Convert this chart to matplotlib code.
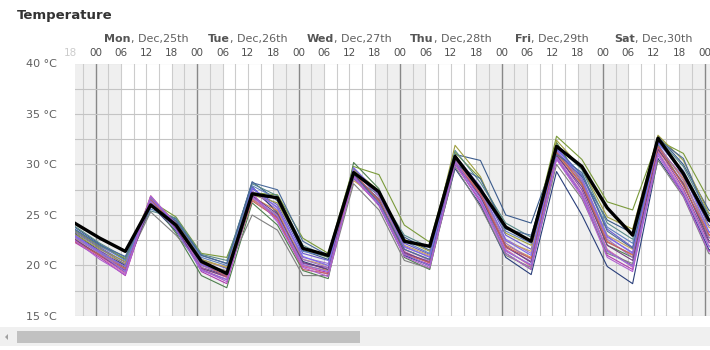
import matplotlib
matplotlib.use('Agg')
import matplotlib.pyplot as plt
from matplotlib.patches import Rectangle, Polygon
from matplotlib import transforms

# hours relative to Mon Dec 25, 00:00
hours = [-5, 1, 7, 13, 19, 25, 31, 37, 43, 49, 55, 61, 67, 73, 79,
         85, 91, 97, 103, 109, 115, 121, 127, 133, 139, 145, 151]

# main run (black)
main_run = [24.2, 22.7, 21.4, 26.0, 24.0, 20.4, 19.2, 27.1, 26.7, 21.7, 21.0, 29.2, 27.3, 22.4,
            21.9, 30.8, 27.5, 23.8, 22.4, 31.8, 29.8, 25.7, 23.0, 32.6, 29.1, 24.5, 23.0]

# ensemble members
m01 = [22.6, 21.0, 19.3, 26.5, 23.6, 19.6, 18.6, 26.6, 24.8, 20.2, 19.8, 28.9, 26.2, 21.2,
       20.4, 30.2, 26.9, 21.8, 20.4, 31.0, 27.5, 21.5, 20.0, 31.6, 27.6, 22.3, 21.0]
m02 = [22.3, 20.8, 19.0, 26.8, 23.9, 19.4, 18.2, 27.0, 24.5, 19.9, 19.3, 28.6, 26.0, 21.0,
       20.1, 30.0, 26.4, 21.5, 20.0, 30.6, 27.0, 21.0, 19.6, 31.2, 27.0, 21.5, 20.4]
m03 = [23.0, 21.5, 20.0, 26.3, 24.2, 20.2, 19.3, 27.4, 25.5, 20.8, 20.2, 29.3, 26.8, 21.8,
       20.9, 30.5, 27.4, 22.6, 21.2, 31.4, 28.4, 22.8, 21.3, 32.0, 28.4, 23.3, 22.0]
m04 = [23.4, 21.8, 20.3, 26.1, 24.4, 20.6, 19.7, 27.6, 26.0, 21.2, 20.5, 29.6, 27.0, 22.2,
       21.1, 30.9, 27.8, 23.0, 21.6, 31.7, 28.9, 23.6, 21.8, 32.3, 29.0, 24.0, 22.6]
m05 = [23.8, 22.1, 20.6, 25.8, 24.6, 21.0, 20.2, 28.3, 26.4, 21.5, 20.6, 28.8, 26.6, 22.8,
       21.5, 31.0, 30.4, 25.0, 24.2, 31.2, 28.8, 24.5, 23.2, 32.8, 30.0, 25.5, 24.0]
m06 = [23.2, 21.4, 20.0, 26.0, 23.4, 19.8, 19.0, 27.8, 25.2, 20.4, 19.6, 29.0, 26.0, 21.0,
       20.0, 29.6, 26.0, 20.8, 19.1, 29.3, 25.0, 19.9, 18.2, 30.6, 27.0, 21.6, 20.5]
m07 = [22.8, 21.2, 19.8, 26.6, 23.2, 19.0, 17.8, 26.2, 24.0, 19.5, 18.7, 30.2, 27.6, 20.8,
       19.6, 30.6, 27.0, 21.2, 19.6, 32.2, 28.2, 22.0, 20.8, 31.9, 28.0, 22.8, 21.5]
m08 = [23.5, 21.9, 20.7, 26.4, 24.8, 21.2, 20.8, 27.2, 27.0, 22.7, 21.2, 29.8, 29.0, 24.0,
       22.3, 31.2, 28.6, 23.8, 22.4, 32.8, 30.5, 26.3, 25.5, 32.4, 31.1, 26.5, 25.0]
m09 = [23.1, 21.6, 20.4, 26.7, 24.3, 20.6, 19.8, 27.0, 26.2, 21.6, 20.8, 29.5, 27.4, 22.6,
       21.4, 31.9, 28.8, 23.2, 22.0, 32.4, 29.6, 24.8, 23.6, 32.9, 30.4, 25.2, 23.8]
m10 = [22.4, 21.1, 19.9, 26.9, 24.0, 20.0, 19.4, 26.8, 25.4, 20.0, 19.5, 29.0, 26.4, 21.6,
       20.6, 30.3, 27.2, 22.0, 20.8, 31.1, 28.0, 22.4, 21.0, 31.8, 28.6, 23.0, 21.8]
m11 = [22.7, 21.3, 20.2, 26.2, 24.1, 20.4, 19.9, 26.5, 25.0, 20.6, 20.0, 28.4, 26.6, 22.0,
       21.0, 30.0, 27.6, 22.4, 21.4, 30.9, 28.6, 23.0, 21.6, 31.4, 28.2, 23.8, 22.4]
m12 = [22.5, 20.9, 19.2, 26.3, 23.8, 19.8, 18.8, 26.7, 24.6, 20.0, 19.1, 28.8, 26.2, 21.4,
       20.2, 30.4, 27.0, 21.6, 19.9, 30.8, 27.2, 21.6, 19.8, 31.3, 27.4, 22.0, 20.6]
m13 = [23.6, 22.0, 20.5, 25.6, 24.5, 20.8, 20.0, 27.9, 26.6, 21.4, 20.9, 29.1, 27.2, 22.4,
       21.2, 30.7, 27.6, 23.4, 22.2, 31.5, 29.0, 23.8, 22.2, 32.1, 29.4, 24.6, 23.2]
m14 = [23.9, 22.2, 20.8, 25.4, 24.7, 21.1, 20.5, 28.1, 26.9, 22.0, 20.8, 28.6, 27.0, 23.0,
       21.8, 31.4, 28.2, 24.2, 22.8, 31.9, 29.5, 24.2, 22.6, 32.6, 29.8, 25.0, 23.4]
m15 = [23.3, 21.7, 20.1, 25.3, 23.0, 20.1, 19.5, 25.0, 23.5, 19.0, 19.0, 28.1, 25.5, 20.5,
       19.7, 29.8, 25.8, 21.0, 19.8, 30.0, 26.6, 21.2, 20.2, 30.4, 26.8, 21.2, 20.0]
m16 = [22.9, 21.4, 19.6, 26.6, 24.2, 20.0, 19.0, 27.3, 25.8, 20.6, 19.8, 29.4, 26.9, 21.6,
       20.5, 30.6, 27.3, 22.2, 20.6, 31.3, 28.3, 22.6, 20.8, 31.7, 28.8, 22.8, 21.2]
m17 = [22.6, 21.0, 19.5, 26.0, 23.7, 19.7, 18.9, 26.9, 25.1, 20.3, 19.6, 29.0, 26.5, 21.3,
       20.3, 30.1, 26.8, 21.9, 20.3, 30.9, 27.8, 22.0, 20.5, 31.5, 28.1, 22.5, 21.0]
m18 = [22.4, 21.0, 19.7, 26.5, 23.9, 20.2, 18.9, 26.4, 24.7, 19.6, 19.2, 29.2, 26.4, 21.1,
       20.3, 30.2, 27.1, 21.8, 20.7, 31.2, 28.1, 22.3, 21.1, 31.8, 27.9, 23.1, 21.5]
m19 = [23.6, 22.0, 20.9, 25.9, 24.4, 21.0, 20.2, 28.2, 27.5, 22.4, 21.0, 29.0, 26.2, 21.6,
       20.6, 30.0, 28.6, 23.6, 23.0, 31.0, 29.2, 23.4, 21.7, 32.5, 30.6, 24.6, 22.9]
m20 = [23.0, 21.3, 19.9, 26.8, 24.0, 20.1, 19.2, 27.7, 25.7, 20.9, 20.0, 29.7, 27.1, 21.9,
       20.8, 30.8, 27.6, 22.5, 21.0, 31.6, 28.6, 22.9, 21.2, 32.2, 29.2, 23.4, 21.8]
m21 = [22.8, 21.2, 19.4, 26.4, 23.5, 19.5, 18.6, 26.8, 24.9, 20.1, 19.4, 28.7, 26.1, 21.1,
       20.0, 30.3, 26.6, 21.4, 20.1, 30.7, 27.1, 21.4, 19.9, 31.1, 27.2, 21.9, 20.3]
m22 = [22.5, 20.6, 19.1, 26.9, 24.1, 19.6, 18.4, 27.2, 24.3, 19.8, 18.9, 28.9, 25.9, 20.9,
       19.8, 30.1, 26.2, 21.2, 19.6, 30.5, 26.8, 20.8, 19.4, 30.9, 26.9, 21.4, 20.2]

members = [m01, m02, m03, m04, m05, m06, m07, m08, m09, m10, m11,
           m12, m13, m14, m15, m16, m17, m18, m19, m20, m21, m22]
member_colors = ['#8e44ad', '#b03ab0', '#9b6fd0', '#6a5acd', '#3b5b8c', '#2a3f7a',
                 '#4f7f4f', '#7a9a3a', '#a0a040', '#d2884a', '#c8a060', '#d070b0',
                 '#6080c0', '#5a8a8a', '#808080', '#a070c0', '#704080', '#c06060',
                 '#4a6a9a', '#7b68ee', '#9370db', '#b060d0']

day_names = ['Mon', 'Tue', 'Wed', 'Thu', 'Fri', 'Sat']
day_dates = [', Dec,25th', ', Dec,26th', ', Dec,27th', ', Dec,28th', ', Dec,29th', ', Dec,30th']
day_noon = [12, 36, 60, 84, 108, 132]

hour_ticks = list(range(-6, 145, 6))
y_ticks = [15, 20, 25, 30, 35, 40]

W, H = 710, 350
fig = plt.figure(figsize=(W / 100, H / 100), dpi=100)
ax = fig.add_axes([75 / W, 1 - 316 / H, 635 / W, (316 - 63.5) / H])
ax.set_xlim(-4.9, 145.3)
ax.set_ylim(15, 40)

# night shading 18:00 - 06:00
for start in range(-6, 150, 24):
    ax.axvspan(start, start + 12, color='#efefef', lw=0, zorder=0)

# grid
for h in range(-3, 147, 3):
    if h % 24 == 0:
        ax.axvline(h, color='#888888', lw=1.0, zorder=1)
    else:
        ax.axvline(h, color='#cccccc', lw=0.8, zorder=1)
for v in [15 + 2.5 * i for i in range(11)]:
    ax.axhline(v, color='#c4c4c4', lw=0.8, zorder=1)

for vals, col in zip(members, member_colors):
    ax.plot(hours, vals, color=col, lw=0.8, zorder=2)
ax.plot(hours, main_run, color='black', lw=2.4, zorder=3)

for s in ax.spines.values():
    s.set_visible(False)
ax.set_xticks([])
ax.set_yticks(y_ticks)
ax.set_yticklabels(['%d °C' % t for t in y_ticks], color='#606060', fontsize=8)
ax.tick_params(axis='y', length=0, pad=13)

# top labels
blend = transforms.blended_transform_factory(ax.transData, fig.transFigure)
for h in hour_ticks:
    col = '#cccccc' if h < 0 else '#505050'
    ax.text(h, 1 - 53 / H, '%02d' % (h % 24), transform=blend, ha='center', va='center',
            fontsize=7.5, color=col, clip_on=False)

fig.canvas.draw()
renderer = fig.canvas.get_renderer()
for name, date, noon in zip(day_names, day_dates, day_noon):
    t1 = fig.text(0, 1 - 39 / H, name, fontsize=8, fontweight='bold', color='#555555',
                  ha='left', va='center')
    t2 = fig.text(0, 1 - 39 / H, date, fontsize=8, color='#606060', ha='left', va='center')
    w1 = t1.get_window_extent(renderer).width
    w2 = t2.get_window_extent(renderer).width
    xc = ax.transData.transform((noon, 20))[0]
    x0 = xc - (w1 + w2) / 2
    t1.set_x(x0 / W)
    t2.set_x((x0 + w1) / W)

fig.text(17 / W, 1 - 16 / H, 'Temperature', fontsize=9.5, fontweight='bold', color='#333333',
         ha='left', va='center')

# scrollbar
fig.patches.append(Rectangle((0, 1 - 346 / H), 1, 19 / H, transform=fig.transFigure,
                             color='#f0f0f0', lw=0, figure=fig))
fig.patches.append(Rectangle((17 / W, 1 - 343 / H), 343 / W, 12 / H, transform=fig.transFigure,
                             color='#c1c1c1', lw=0, figure=fig))
fig.patches.append(Polygon([(5 / W, 1 - 337 / H), (8 / W, 1 - 334 / H), (8 / W, 1 - 340 / H)],
                           closed=True, transform=fig.transFigure, color='#a0a0a0', lw=0, figure=fig))

fig.savefig('out.png', dpi=100)
